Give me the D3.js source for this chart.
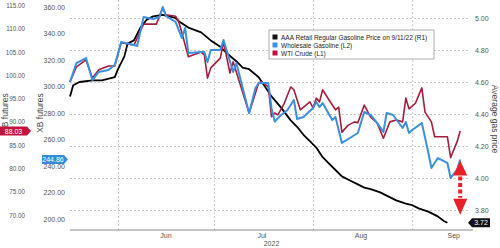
<!DOCTYPE html>
<html>
<head>
<meta charset="utf-8">
<script src="https://cdn.jsdelivr.net/npm/d3@7"></script>
<style>
body { margin: 0; background: #fff; }
svg { display: block; }
text { font-family: "Liberation Sans", Arial, sans-serif; }
</style>
</head>
<body>
<svg id="chart" width="500" height="248"></svg>
<script>
// AAA retail regular gasoline (R1, $/gal)
var retail = [
  ["2022-05-17",4.51],["2022-05-18",4.58],["2022-05-20",4.60],["2022-05-24",4.61],["2022-05-27",4.61],
  ["2022-05-31",4.63],["2022-06-01",4.68],["2022-06-03",4.76],["2022-06-04",4.84],["2022-06-06",4.86],
  ["2022-06-08",4.94],["2022-06-10",4.99],["2022-06-12",5.01],["2022-06-15",5.02],["2022-06-17",5.01],
  ["2022-06-19",5.00],["2022-06-20",4.98],["2022-06-23",4.94],["2022-06-27",4.91],["2022-06-30",4.86],
  ["2022-07-03",4.82],["2022-07-05",4.78],["2022-07-08",4.73],["2022-07-10",4.69],["2022-07-12",4.68],
  ["2022-07-15",4.63],["2022-07-17",4.57],["2022-07-19",4.51],["2022-07-22",4.44],["2022-07-25",4.36],
  ["2022-07-27",4.32],["2022-07-29",4.27],["2022-07-31",4.23],["2022-08-02",4.19],["2022-08-04",4.13],
  ["2022-08-06",4.09],["2022-08-08",4.05],["2022-08-10",4.01],["2022-08-13",3.98],["2022-08-15",3.96],
  ["2022-08-17",3.94],["2022-08-19",3.93],["2022-08-22",3.91],["2022-08-24",3.89],["2022-08-27",3.86],
  ["2022-08-30",3.84],["2022-09-01",3.83],["2022-09-03",3.81],["2022-09-06",3.79],["2022-09-09",3.76],
  ["2022-09-11",3.73],["2022-09-12",3.72]
];

// wholesale gasoline, XB futures (L2)
var wholesale = [
  ["2022-05-17",303.4],["2022-05-19",317.7],["2022-05-22",321.5],["2022-05-24",304.9],["2022-05-26",311.0],
  ["2022-05-29",312.5],["2022-05-31",316.2],["2022-06-02",333.6],["2022-06-06",331.3],["2022-06-07",330.6],
  ["2022-06-09",352.5],["2022-06-12",350.9],["2022-06-14",352.5],["2022-06-15",360.0],["2022-06-16",353.2],
  ["2022-06-19",348.7],["2022-06-21",336.6],["2022-06-22",344.2],["2022-06-23",325.3],["2022-06-27",326.0],
  ["2022-06-28",326.0],["2022-06-29",318.5],["2022-06-30",327.5],["2022-07-03",327.5],["2022-07-04",335.1],
  ["2022-07-07",311.0],["2022-07-08",317.7],["2022-07-12",280.0],["2022-07-14",298.9],["2022-07-15",302.6],
  ["2022-07-18",302.6],["2022-07-19",283.8],["2022-07-20",273.5],["2022-07-22",278.5],["2022-07-24",282.3],
  ["2022-07-26",289.8],["2022-07-27",275.5],["2022-07-29",277.0],["2022-08-01",283.8],["2022-08-02",288.3],
  ["2022-08-03",284.5],["2022-08-04",287.5],["2022-08-07",274.7],["2022-08-08",277.0],["2022-08-10",257.4],
  ["2022-08-13",261.9],["2022-08-15",264.9],["2022-08-17",280.8],["2022-08-19",278.5],["2022-08-21",272.5],
  ["2022-08-23",265.7],["2022-08-24",280.0],["2022-08-26",278.5],["2022-08-29",268.7],["2022-08-30",273.2],
  ["2022-08-31",264.9],["2022-09-01",267.2],["2022-09-04",272.5],["2022-09-06",250.6],["2022-09-07",238.5],
  ["2022-09-09",246.0],["2022-09-12",242.3],["2022-09-13",231.0],["2022-09-15",237.0],["2022-09-16",244.86]
];

// WTI crude (L1)
var wti = [
  ["2022-05-17",98.6],["2022-05-19",101.8],["2022-05-22",103.3],["2022-05-24",99.4],["2022-05-26",101.2],
  ["2022-05-29",102.0],["2022-05-31",102.0],["2022-06-02",107.0],["2022-06-06",106.5],["2022-06-09",111.0],
  ["2022-06-13",111.0],["2022-06-15",114.5],["2022-06-16",113.0],["2022-06-19",112.7],["2022-06-20",111.5],
  ["2022-06-21",109.1],["2022-06-23",104.0],["2022-06-27",105.0],["2022-06-28",104.4],["2022-06-29",99.4],
  ["2022-06-30",101.6],["2022-07-03",103.7],["2022-07-04",107.2],["2022-07-06",100.5],["2022-07-07",102.9],
  ["2022-07-12",91.9],["2022-07-15",98.4],["2022-07-16",98.6],["2022-07-18",97.5],["2022-07-19",91.1],
  ["2022-07-20",91.9],["2022-07-21",91.5],["2022-07-23",94.0],["2022-07-25",97.5],["2022-07-26",96.9],
  ["2022-07-28",92.6],["2022-07-31",94.3],["2022-08-01",93.0],["2022-08-02",95.1],["2022-08-03",94.3],
  ["2022-08-04",96.9],["2022-08-06",94.7],["2022-08-08",92.6],["2022-08-09",93.2],["2022-08-10",87.8],
  ["2022-08-12",89.3],["2022-08-14",90.0],["2022-08-15",89.8],["2022-08-17",93.6],["2022-08-19",91.0],
  ["2022-08-21",89.8],["2022-08-23",86.5],["2022-08-25",90.0],["2022-08-27",90.4],["2022-08-29",90.0],
  ["2022-08-30",95.1],["2022-08-31",92.8],["2022-09-02",94.0],["2022-09-04",97.3],["2022-09-05",92.1],
  ["2022-09-07",90.0],["2022-09-08",86.8],["2022-09-12",86.8],["2022-09-13",82.3],["2022-09-15",85.7],
  ["2022-09-16",88.03]
];

var legendLabels = ["AAA Retail Regular Gasoline Price on 9/11/22 (R1)", "Wholesale Gasoline (L2)", "WTI Crude (L1)"];
var legendColors = ["#111111", "#3c8fdc", "#c0143c"];
var monthStarts = ["2022-06-01","2022-07-01","2022-08-01","2022-09-01"];
var monthLabels = ["Jun","Jul","Aug","Sep"];
var monthLabelDates = ["2022-06-16","2022-07-16","2022-08-16","2022-09-14"];
var yearLabel = "2022";
var wtiTicks = [70,75,80,85,90,95,100,105,110,115];
var xbTicks = [200,220,240,260,280,300,320,340,360];
var gasTicks = [3.8,4.0,4.2,4.4,4.6,4.8,5.0];
var arrowDate = "2022-09-16";
var arrowSpan = [4.11, 3.77]; // on the R1 scale

var parse = d3.timeParse("%Y-%m-%d");
var svg = d3.select("#chart");

var x = d3.scaleTime().domain([parse("2022-05-17"), parse("2022-09-20")]).range([70, 473]);
var yL1 = d3.scaleLinear().domain([70, 115]).range([215, 5.5]);
var yL2 = d3.scaleLinear().domain([200, 360]).range([219, 7]);
var yR1 = d3.scaleLinear().domain([3.8, 5.0]).range([210, 18]);
var fmt = d3.format(".2f");

// horizontal dotted grid from the right axis
svg.append("g")
  .attr("transform", "translate(70,0)")
  .call(d3.axisRight(yR1).tickValues(gasTicks).tickSize(400).tickFormat(""))
  .call(function(g){ g.select(".domain").remove(); })
  .selectAll("line").attr("stroke", "#c8c8c8").attr("stroke-dasharray", "2,2");

// vertical dotted grid at month starts
svg.append("g")
  .attr("transform", "translate(0,230)")
  .call(d3.axisBottom(x).tickValues(monthStarts.map(parse)).tickSize(-230).tickFormat(""))
  .call(function(g){ g.select(".domain").remove(); })
  .selectAll("line").attr("stroke", "#c8c8c8").attr("stroke-dasharray", "2,2");

// bottom axis line
svg.append("line").attr("x1", 70).attr("x2", 473).attr("y1", 230).attr("y2", 230)
  .attr("stroke", "#8a8a8a").attr("stroke-width", 1);

svg.append("g").selectAll("text").data(monthLabels).join("text")
  .attr("x", function(d, i){ return x(parse(monthLabelDates[i])); })
  .attr("y", 238).attr("text-anchor", "middle")
  .attr("font-size", 7).attr("fill", "#555").text(function(d){ return d; });
svg.append("text").attr("x", x(parse("2022-07-19"))).attr("y", 246).attr("text-anchor", "middle")
  .attr("font-size", 7).attr("fill", "#555").text(yearLabel);

// left outer axis (WTI)
svg.append("g").attr("transform", "translate(28,0)")
  .call(d3.axisLeft(yL1).tickValues(wtiTicks).tickSize(0).tickFormat(fmt))
  .call(function(g){ g.select(".domain").remove(); })
  .selectAll("text").attr("font-size", 6.3).attr("fill", "#555").attr("font-family", "Liberation Sans, Arial, sans-serif");

// left inner axis (XB)
svg.append("g").attr("transform", "translate(68,0)")
  .call(d3.axisLeft(yL2).tickValues(xbTicks).tickSize(0).tickFormat(fmt))
  .call(function(g){ g.select(".domain").remove(); })
  .selectAll("text").attr("font-size", 7).attr("fill", "#555").attr("font-family", "Liberation Sans, Arial, sans-serif");

// right axis
svg.append("g").attr("transform", "translate(472,0)")
  .call(d3.axisRight(yR1).tickValues(gasTicks).tickSize(0).tickFormat(fmt))
  .call(function(g){ g.select(".domain").remove(); })
  .selectAll("text").attr("font-size", 7).attr("fill", "#555").attr("font-family", "Liberation Sans, Arial, sans-serif");

// axis titles
svg.append("text").attr("transform", "translate(8,113) rotate(-90)").attr("text-anchor", "middle")
  .attr("font-size", 8.5).attr("fill", "#444").text("XB futures");
svg.append("text").attr("transform", "translate(43,113) rotate(-90)").attr("text-anchor", "middle")
  .attr("font-size", 8.5).attr("fill", "#444").text("XB futures");
svg.append("text").attr("transform", "translate(492,119) rotate(90)").attr("text-anchor", "middle")
  .attr("font-size", 8.5).attr("fill", "#444").text("Average gas price");

// series
function drawLine(data, y, color, w) {
  var line = d3.line()
    .x(function(d){ return x(parse(d[0])); })
    .y(function(d){ return y(d[1]); });
  svg.append("path").datum(data).attr("d", line)
    .attr("fill", "none").attr("stroke", color).attr("stroke-width", w)
    .attr("stroke-linejoin", "round");
}
drawLine(retail, yR1, "#000000", 1.8);
drawLine(wti, yL1, "#a31d3c", 1.6);
drawLine(wholesale, yL2, "#3c8fdc", 2);

// legend
var lg = svg.append("g").attr("transform", "translate(269,30)");
lg.append("rect").attr("width", 165).attr("height", 29).attr("fill", "#fff")
  .attr("stroke", "#9a9a9a").attr("stroke-width", 0.8);
lg.selectAll("rect.sw").data(legendLabels).join("rect").attr("class", "sw")
  .attr("x", 3.5).attr("y", function(d, i){ return 4.5 + i * 8; })
  .attr("width", 5).attr("height", 5)
  .attr("fill", function(d, i){ return legendColors[i]; });
lg.selectAll("text").data(legendLabels).join("text")
  .attr("x", 12).attr("y", function(d, i){ return 9.5 + i * 8; })
  .attr("font-size", 6.5).attr("fill", "#222").text(function(d){ return d; });

// last-value badges
function badge(v, cy, tipX, side, color, label, w) {
  var h = 9, p;
  if (side === "right") {
    p = [[tipX - w - 4, cy - h/2], [tipX - 4, cy - h/2], [tipX, cy], [tipX - 4, cy + h/2], [tipX - w - 4, cy + h/2]];
  } else {
    p = [[tipX + w + 4, cy - h/2], [tipX + 4, cy - h/2], [tipX, cy], [tipX + 4, cy + h/2], [tipX + w + 4, cy + h/2]];
  }
  svg.append("path").attr("d", d3.line()(p) + "Z").attr("fill", color);
  svg.append("text")
    .attr("x", side === "right" ? tipX - 4 - w/2 : tipX + 4 + w/2)
    .attr("y", cy + 2.5).attr("text-anchor", "middle")
    .attr("font-size", 7).attr("fill", "#fff").text(label);
}
var lastWti = wti[wti.length - 1][1];
var lastXb = wholesale[wholesale.length - 1][1];
var lastGas = retail[retail.length - 1][1];
badge(lastWti, yL1(lastWti), 31, "right", "#c0143c", fmt(lastWti), 27);
badge(lastXb, yL2(lastXb), 68, "right", "#3a8ad6", fmt(lastXb), 22);
badge(lastGas, yR1(lastGas), 468, "left", "#111", fmt(lastGas), 18);

// red dashed double arrow
var ax = x(parse(arrowDate));
var yTop = yR1(arrowSpan[0]), yBot = yR1(arrowSpan[1]);
var red = "#e8202a";
svg.append("path").attr("d", d3.line()([[ax, yTop], [ax + 7, yTop + 15], [ax - 7, yTop + 15]]) + "Z").attr("fill", red);
svg.append("path").attr("d", d3.line()([[ax, yBot], [ax + 7, yBot - 16], [ax - 7, yBot - 16]]) + "Z").attr("fill", red);
svg.append("line").attr("x1", ax).attr("x2", ax).attr("y1", yTop + 16).attr("y2", yBot - 17)
  .attr("stroke", red).attr("stroke-width", 4).attr("stroke-dasharray", "4,2.5");
</script>
</body>
</html>
